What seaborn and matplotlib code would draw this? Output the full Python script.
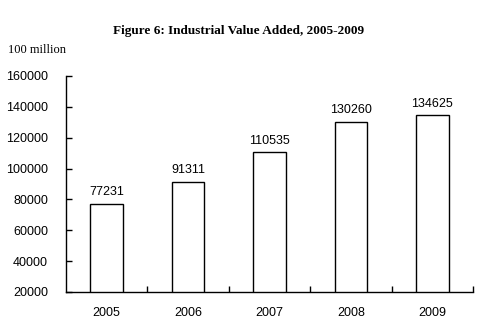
import matplotlib
matplotlib.use("Agg")
import matplotlib.pyplot as plt
import seaborn as sns
import pandas as pd
from matplotlib.ticker import FixedLocator

years = ["2005", "2006", "2007", "2008", "2009"]
values = [77231, 91311, 110535, 130260, 134625]
yticks = [20000, 40000, 60000, 80000, 100000, 120000, 140000, 160000]

sns.set_style("white")
plt.rcParams['font.family'] = ['Liberation Sans', 'DejaVu Sans']
plt.rcParams['text.color'] = 'black'
plt.rcParams['xtick.color'] = 'black'
plt.rcParams['ytick.color'] = 'black'
plt.rcParams['xtick.labelcolor'] = 'black'
plt.rcParams['ytick.labelcolor'] = 'black'

df = pd.DataFrame({"year": years, "value": values})

fig = plt.figure(figsize=(4.78, 3.35), dpi=100)
ax = fig.add_axes([66/478, 43/335, (473-66)/478, (292-76)/335])

sns.barplot(data=df, x="year", y="value", ax=ax, color="white",
            edgecolor="black", linewidth=1.0, width=0.4, saturation=1)

ax.set_ylim(20000, 160000)
ax.set_xlim(-0.5, 4.5)
ax.set_yticks(yticks)
ax.set_yticklabels([str(v) for v in yticks])
ax.set_xlabel("")
ax.set_ylabel("")

for s in ["top", "right"]:
    ax.spines[s].set_visible(False)
for s in ["left", "bottom"]:
    ax.spines[s].set_color("black")
    ax.spines[s].set_linewidth(1.0)

ax.tick_params(axis="y", direction="in", length=4, width=1, color="black",
               pad=13, labelsize=9, left=True)
ax.tick_params(axis="x", which="major", length=0, pad=11, labelsize=9)
ax.xaxis.set_minor_locator(FixedLocator([0.5, 1.5, 2.5, 3.5, 4.5]))
ax.tick_params(axis="x", which="minor", direction="in", length=4, width=1,
               color="black", bottom=True)

for i, v in enumerate(values):
    ax.annotate(str(v), (i, v), xytext=(0, 4), textcoords="offset points",
                ha="center", va="bottom", fontsize=9, color="black")

fig.text(239/478, 1 - 31/335, "Figure 6: Industrial Value Added, 2005-2009",
         ha="center", va="center", fontsize=9.5, fontweight="bold",
         family=["Liberation Serif"], color="black")
fig.text(8/478, 1 - 50/335, "100 million", ha="left", va="center",
         fontsize=9, family=["Liberation Serif"], color="black")

fig.savefig("out.png", dpi=100, facecolor="white")
